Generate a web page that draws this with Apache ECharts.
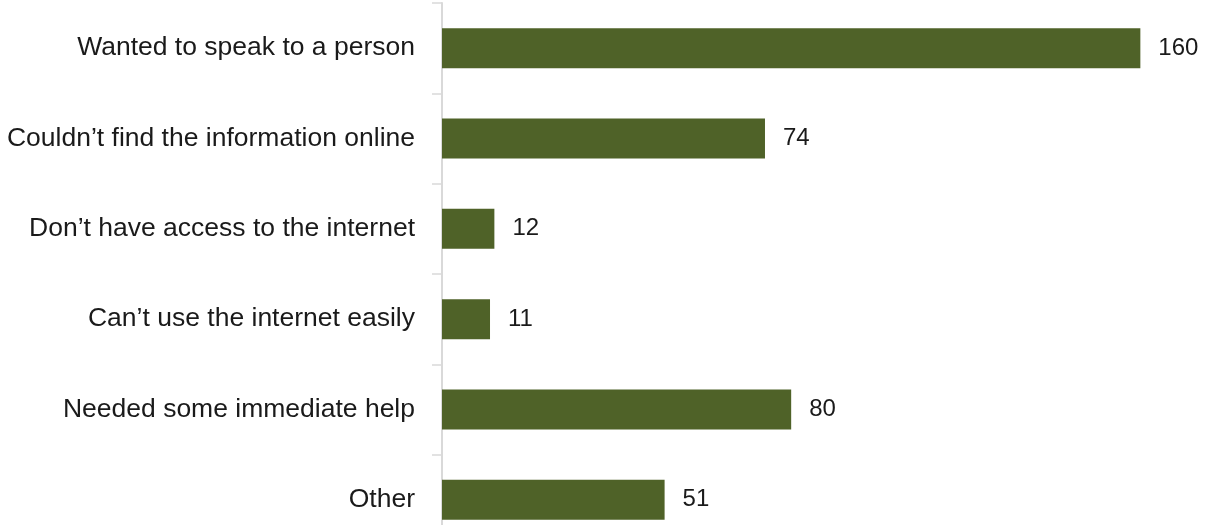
<!DOCTYPE html>
<html>
<head>
<meta charset="utf-8">
<script src="https://cdn.jsdelivr.net/npm/echarts@6/dist/echarts.min.js"></script>
<style>
  html, body { margin: 0; padding: 0; background: #ffffff; overflow: hidden; }
  /* the plot runs past the lower edge of the window, so the canvas is taller */
  #chart { width: 1210px; height: 545px; }
</style>
</head>
<body>
<div id="chart"></div>
<script>
// Reasons for contacting by phone rather than online
const categories = [
  'Wanted to speak to a person',
  'Couldn\u2019t find the information online',
  'Don\u2019t have access to the internet',
  'Can\u2019t use the internet easily',
  'Needed some immediate help',
  'Other'
];
const counts = [160, 74, 12, 11, 80, 51];

const chart = echarts.init(document.getElementById('chart'), null, { renderer: 'canvas' });

chart.setOption({
  animation: false,
  backgroundColor: '#ffffff',
  grid: { left: 442, top: 3, width: 742, bottom: 0, containLabel: false },
  xAxis: {
    type: 'value',
    min: 0,
    max: 170,
    show: false
  },
  yAxis: {
    type: 'category',
    data: categories,
    inverse: true,
    axisLine: { show: true, lineStyle: { color: '#d9d9d9', width: 2 } },
    axisTick: { show: true, length: 10, lineStyle: { color: '#d9d9d9', width: 1.5 } },
    axisLabel: {
      margin: 27,
      color: '#1a1a1a',
      fontFamily: 'Liberation Sans, Arial, sans-serif',
      fontSize: 26.5
    },
    splitLine: { show: false }
  },
  series: [{
    type: 'bar',
    data: counts,
    barWidth: 40,
    itemStyle: { color: '#4f6228' },
    label: {
      show: true,
      position: 'right',
      distance: 18,
      color: '#1a1a1a',
      fontFamily: 'Liberation Sans, Arial, sans-serif',
      fontSize: 24
    }
  }]
});
</script>
</body>
</html>
